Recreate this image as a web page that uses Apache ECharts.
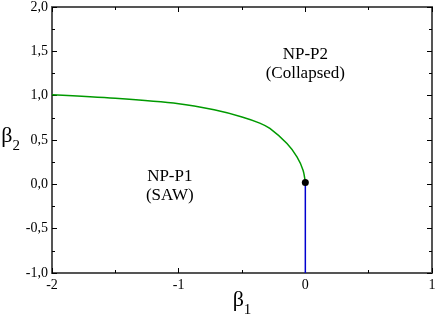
<!DOCTYPE html>
<html><head><meta charset="utf-8">
<script src="https://cdn.jsdelivr.net/npm/echarts@6/dist/echarts.min.js"></script>
<style>html,body{margin:0;padding:0;background:#fff}#c{width:436px;height:317px}</style>
</head><body><div id="c"></div>
<script>
// Boundary NP-P1 / NP-P2 (green curve)
const curveX = [-2, -1.5, -1.0, -0.72, -0.5, -0.36, -0.28, -0.145, -0.066, -0.018, 0];
const curveY = [1.01, 0.97, 0.91, 0.84, 0.76, 0.69, 0.63, 0.46, 0.31, 0.16, 0.02];
// Vertical boundary (blue)
const lineX = [0, 0];
const lineY = [0.02, -1];
// Multicritical point
const pointX = [0];
const pointY = [0.02];
// Region labels
const labelText = ['NP-P2\n(Collapsed)', 'NP-P1\n(SAW)'];
const labelX = [0, -1.07];
const labelY = [1.36, -0.02];

const font = 'Liberation Serif';
const fmt = v => v.toFixed(1).replace('.', ',');
const zip = (a, b) => a.map((v, i) => [v, b[i]]);

const axisCommon = {
  axisLine: {onZero: false, lineStyle: {color: '#555', width: 2}},
  axisTick: {inside: true, length: 5, lineStyle: {color: '#000', width: 1}},
  minorTick: {show: true, splitNumber: 2, length: 3, lineStyle: {color: '#000', width: 1}},
  splitLine: {show: false},
  nameMoveOverlap: false
};
const nameRich = {
  b: {fontFamily: font, fontSize: 22, color: '#000', verticalAlign: 'bottom'},
  s: {fontFamily: font, fontSize: 15, color: '#000', verticalAlign: 'bottom', padding: [0, 0, -7, 0]}
};

const chart = echarts.init(document.getElementById('c'));
chart.setOption({
  animation: false,
  grid: {left: 52, right: 4, top: 7, bottom: 44, outerBoundsMode: 'none', containLabel: false},
  xAxis: [
    Object.assign({}, axisCommon, {
      type: 'value', min: -2, max: 1, interval: 1, position: 'bottom',
      axisLabel: {fontFamily: font, fontSize: 14, color: '#000', margin: 5},
      name: '{b|β}{s|1}', nameLocation: 'middle', nameGap: 16,
      nameTextStyle: {rich: nameRich}
    }),
    Object.assign({}, axisCommon, {
      type: 'value', min: -2, max: 1, interval: 1, position: 'top',
      axisLabel: {show: false}
    })
  ],
  yAxis: [
    Object.assign({}, axisCommon, {
      type: 'value', min: -1, max: 2, interval: 0.5, position: 'left',
      axisLabel: {fontFamily: font, fontSize: 14, color: '#000', margin: 4, formatter: fmt},
      name: '{b|β}{s|2}', nameLocation: 'middle', nameGap: 32, nameRotate: 0,
      nameTextStyle: {rich: nameRich, padding: [0, 0, 8, 0]}
    }),
    Object.assign({}, axisCommon, {
      type: 'value', min: -1, max: 2, interval: 0.5, position: 'right',
      axisLabel: {show: false}
    })
  ],
  series: [
    {
      type: 'line', data: zip(curveX, curveY), smooth: 0.3, showSymbol: false,
      lineStyle: {color: '#009a00', width: 1.5}, z: 3
    },
    {
      type: 'line', data: zip(lineX, lineY), showSymbol: false,
      lineStyle: {color: '#0000d0', width: 1.5}, z: 3
    },
    {
      type: 'scatter', data: zip(pointX, pointY), symbolSize: 7,
      itemStyle: {color: '#000', opacity: 1}, z: 5
    },
    {
      type: 'scatter', symbolSize: 0, z: 6, itemStyle: {opacity: 1},
      data: labelText.map((t, i) => ({value: [labelX[i], labelY[i]], name: t})),
      label: {show: true, position: 'inside', formatter: p => p.name,
        fontFamily: font, fontSize: 17, color: '#000', lineHeight: 19, align: 'center',
        textBorderWidth: 0}
    }
  ]
});
</script></body></html>
